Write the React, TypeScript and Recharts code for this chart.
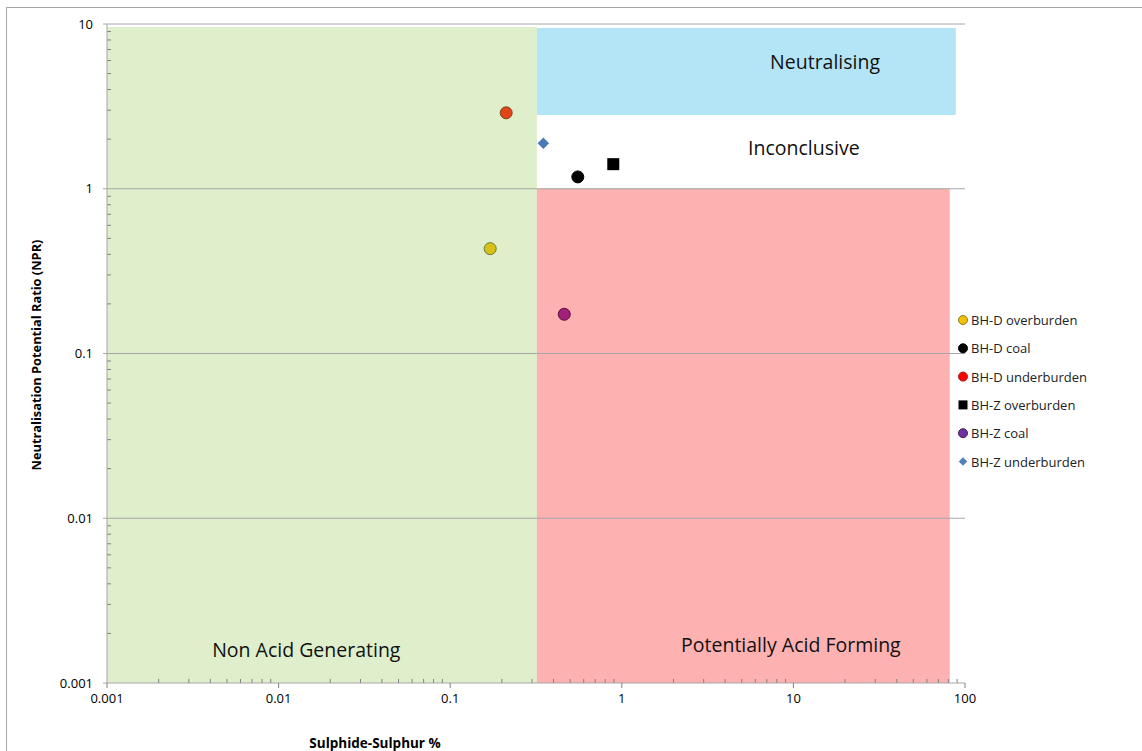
import React from 'react';
import {
  ScatterChart,
  Scatter,
  XAxis,
  YAxis,
  ReferenceArea,
  ReferenceLine,
  ReferenceDot,
} from 'recharts';

// Sample results: sulphide-sulphur (%) vs neutralisation potential ratio
const seriesNames = [
  'BH-D overburden',
  'BH-D coal',
  'BH-D underburden',
  'BH-Z overburden',
  'BH-Z coal',
  'BH-Z underburden',
];
const sulphur = [0.171, 0.554, 0.212, 0.892, 0.462, 0.349];
const npr = [0.433, 1.18, 2.89, 1.41, 0.173, 1.89];

const xTicks = [0.001, 0.01, 0.1, 1, 10, 100];
const yTicks = [0.001, 0.01, 0.1, 1, 10];
const gridValues = [10, 1, 0.1, 0.01];

// classification zones
const zones = [
  { name: 'Non Acid Generating', x1: 0.001, x2: 0.32, y1: 0.001, y2: 9.6, labelX: 0.0145, labelY: 0.00159 },
  { name: 'Neutralising', x1: 0.32, x2: 88.4, y1: 2.8, y2: 9.46, labelX: 15.3, labelY: 5.88 },
  { name: 'Inconclusive', x1: 0.32, x2: 88.4, y1: 1, y2: 2.8, labelX: 11.5, labelY: 1.76 },
  { name: 'Potentially Acid Forming', x1: 0.32, x2: 81.5, y1: 0.001, y2: 1, labelX: 9.67, labelY: 0.0017 },
];
const zoneColors = ['#dfefcb', '#b3e5f7', 'none', '#feb1b1'];

const minorTicks = (from: number, to: number) => {
  const out: number[] = [];
  for (let d = from; d < to; d *= 10) {
    for (let k = 2; k <= 9; k++) out.push(+(k * d).toPrecision(3));
  }
  return out;
};
const xMinor = minorTicks(0.001, 100);
const yMinor = minorTicks(0.001, 10);

const FONT = '"Open Sans", "Noto Sans", sans-serif';
const GRID = '#a6a6a6';

type MarkerKind = 'circle' | 'square' | 'diamond';
const markerKinds: MarkerKind[] = ['circle', 'circle', 'circle', 'square', 'circle', 'diamond'];
const markerFill = ['#d8c018', '#000000', '#e04418', '#000000', '#a0207a', '#4a78b8'];
const markerStroke = ['#6f7a30', '#000000', '#7a4a20', '#000000', '#5a1040', '#4a78b8'];
const legendFill = ['#f5c000', '#000000', '#ff0000', '#000000', '#7030a0', '#4f81bd'];
const legendStroke = ['#8a7a30', '#000000', '#a02020', '#000000', '#40205a', '#4f81bd'];

const Marker = ({ kind, cx, cy, size, fill, stroke }: any) => {
  if (kind === 'square') {
    return <rect x={cx - size} y={cy - size} width={size * 2} height={size * 2} fill={fill} />;
  }
  if (kind === 'diamond') {
    const s = size * 0.95;
    return (
      <polygon
        points={`${cx},${cy - s} ${cx + s},${cy} ${cx},${cy + s} ${cx - s},${cy}`}
        fill={fill}
      />
    );
  }
  return <circle cx={cx} cy={cy} r={size} fill={fill} stroke={stroke} strokeWidth={1} />;
};

const LegendBox = () => (
  <svg width={170} height={170} style={{ display: 'block' }}>
    {seriesNames.map((name, i) => {
      const cy = 10 + i * 28.3;
      return (
        <g key={name}>
          <Marker
            kind={markerKinds[i]}
            cx={7}
            cy={cy}
            size={4.5}
            fill={legendFill[i]}
            stroke={legendStroke[i]}
          />
          <text x={15} y={cy} dominantBaseline="central" fontSize={13} fontFamily={FONT} fill="#222">
            {name}
          </text>
        </g>
      );
    })}
  </svg>
);

export default function App() {
  return (
    <div style={{ position: 'absolute', left: 0, top: 0, width: 1142, height: 751, background: '#fff' }}>
      <div
        style={{
          position: 'absolute',
          left: 6,
          top: 7,
          right: 0,
          bottom: 0,
          borderLeft: `1px solid ${GRID}`,
          borderTop: `1px solid ${GRID}`,
        }}
      />
      <ScatterChart
        width={1142}
        height={751}
        margin={{ top: 24, right: 177, bottom: 28, left: 47 }}
        style={{ position: 'absolute', left: 0, top: 0, fontFamily: FONT }}
      >
        <XAxis
          xAxisId="minor"
          type="number"
          dataKey="x"
          scale="log"
          domain={[0.001, 100]}
          allowDataOverflow
          ticks={xMinor}
          interval={0}
          mirror
          height={1}
          tickSize={4}
          axisLine={false}
          tickLine={{ stroke: '#808080' }}
          tickFormatter={() => ''}
        />
        <XAxis
          xAxisId="main"
          type="number"
          dataKey="x"
          scale="log"
          domain={[0.001, 100]}
          allowDataOverflow
          ticks={xTicks}
          interval={0}
          height={40}
          tickSize={5}
          tickMargin={6}
          axisLine={{ stroke: GRID }}
          tickLine={{ stroke: '#808080' }}
          tick={{ fontSize: 13, fill: '#000' }}
          tickFormatter={(v: number) => String(v)}
        />
        <YAxis
          yAxisId="minor"
          type="number"
          dataKey="y"
          scale="log"
          domain={[0.001, 10]}
          allowDataOverflow
          ticks={yMinor}
          interval={0}
          mirror
          width={1}
          tickSize={4}
          axisLine={false}
          tickLine={{ stroke: '#808080' }}
          tickFormatter={() => ''}
        />
        <YAxis
          yAxisId="main"
          type="number"
          dataKey="y"
          scale="log"
          domain={[0.001, 10]}
          allowDataOverflow
          ticks={yTicks}
          interval={0}
          width={60}
          tickSize={4}
          tickMargin={10}
          axisLine={{ stroke: GRID }}
          tickLine={{ stroke: GRID }}
          tick={{ fontSize: 13, fill: '#000' }}
          tickFormatter={(v: number) => String(v)}
        />
        {zones.map((z, i) =>
          zoneColors[i] === 'none' ? null : (
            <ReferenceArea
              key={z.name}
              xAxisId="main"
              yAxisId="main"
              x1={z.x1}
              x2={z.x2}
              y1={z.y1}
              y2={z.y2}
              fill={zoneColors[i]}
              fillOpacity={1}
              stroke="none"
              ifOverflow="visible"
            />
          )
        )}
        {gridValues.map((v) => (
          <ReferenceLine key={v} xAxisId="main" yAxisId="main" y={v} stroke={GRID} strokeWidth={1} />
        ))}
        {zones.map((z) => (
          <ReferenceDot
            key={`lbl-${z.name}`}
            xAxisId="main"
            yAxisId="main"
            x={z.labelX}
            y={z.labelY}
            r={0}
            fill="none"
            stroke="none"
            label={{ value: z.name, position: 'center', fontSize: 19.5, fill: '#111', fontFamily: FONT }}
          />
        ))}
        {seriesNames.map((name, i) => (
          <Scatter
            key={name}
            name={name}
            xAxisId="main"
            yAxisId="main"
            data={[{ x: sulphur[i], y: npr[i] }]}
            isAnimationActive={false}
            shape={(p: any) => (
              <Marker
                kind={markerKinds[i]}
                cx={p.cx}
                cy={p.cy}
                size={6}
                fill={markerFill[i]}
                stroke={markerStroke[i]}
              />
            )}
          />
        ))}
      </ScatterChart>
      <div style={{ position: 'absolute', left: 956, top: 310 }}>
        <LegendBox />
      </div>
      <div
        style={{
          position: 'absolute',
          left: 375,
          top: 743,
          transform: 'translate(-50%, -50%)',
          fontFamily: FONT,
          fontSize: 13.5,
          fontWeight: 700,
          whiteSpace: 'nowrap',
        }}
      >
        Sulphide-Sulphur %
      </div>
      <div
        style={{
          position: 'absolute',
          left: 36,
          top: 355,
          transform: 'translate(-50%, -50%) rotate(-90deg)',
          fontFamily: FONT,
          fontSize: 12.8,
          fontWeight: 700,
          whiteSpace: 'nowrap',
        }}
      >
        Neutralisation Potential Ratio (NPR)
      </div>
    </div>
  );
}
